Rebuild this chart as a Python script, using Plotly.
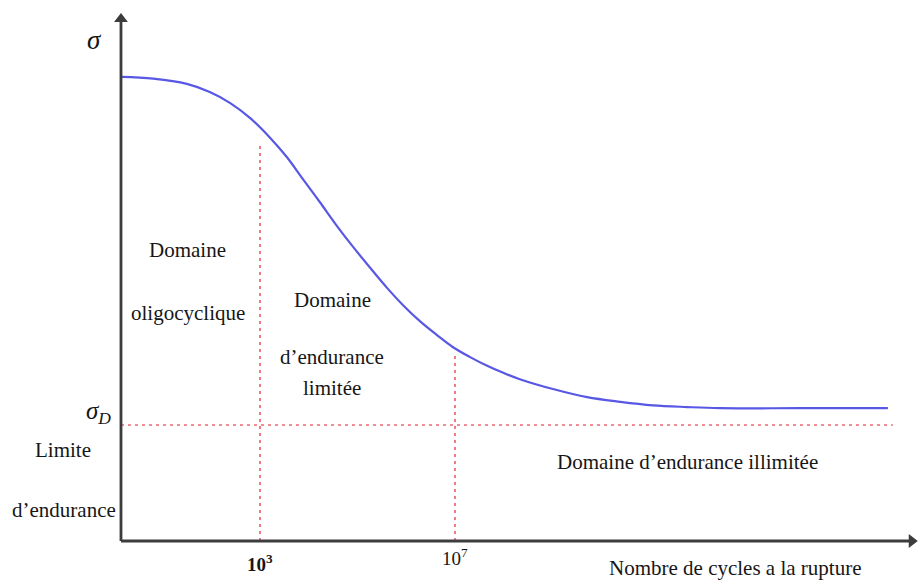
import plotly.graph_objects as go

# Wöhler (S-N) curve: stress amplitude versus log10 of cycles to failure
log_cycles = [0.15, 0.81, 1.50, 1.97, 2.39, 2.80, 3.21, 3.55, 3.88, 4.23,
              4.58, 4.91, 5.26, 5.61, 5.93, 6.28, 6.63, 6.96, 7.31, 7.66,
              7.99, 8.33, 9.01, 9.71, 10.39, 11.06, 11.76, 12.44, 14.08, 15.88]
stress = [800, 797, 788, 774, 755, 729, 695, 662, 624, 584,
          543, 507, 471, 436, 407, 379, 355, 334, 317, 302,
          290, 279, 262, 248, 240, 234, 231, 229, 229, 229]

sigma_d = 200                      # endurance limit
limit_end = 15.98                  # end of the endurance-limit line
domain_bounds = [3, 7]             # 10^3 and 10^7 cycles
bound_tops = [688, 324]            # dashed boundaries stop under the curve
tick_text = ["<b>10<sup>3</sup></b>", "10<sup>7</sup>"]

# axis frame (origin, arrow tips) and visible window
AXIS_X0, AXIS_X1 = 0.1487, 16.37
AXIS_Y0, AXIS_Y1 = 0, 900
X_RANGE = [-2.333, 16.518]
Y_RANGE = [-67.2, 932.7]

TXT = "#161616"
AXIS_C = "#3c3c3c"
SERIF = "Liberation Serif, Times New Roman, serif"
RED = "rgba(236,85,95,0.9)"

fig = go.Figure()

# dashed domain boundaries
for xb, top in zip(domain_bounds, bound_tops):
    fig.add_trace(go.Scatter(x=[xb, xb], y=[AXIS_Y0, top], mode="lines",
                             line=dict(color=RED, width=1.7, dash="3px,4px"),
                             hoverinfo="skip", showlegend=False))
fig.add_trace(go.Scatter(x=[AXIS_X0, limit_end], y=[sigma_d, sigma_d], mode="lines",
                         line=dict(color=RED, width=1.7, dash="3px,4px"),
                         hoverinfo="skip", showlegend=False))

# the curve
fig.add_trace(go.Scatter(x=log_cycles, y=stress, mode="lines",
                         line=dict(color="rgb(88,88,228)", width=2.2, shape="spline",
                                   smoothing=1.0),
                         hoverinfo="skip", showlegend=False))

# axes with arrow heads
fig.add_trace(go.Scatter(x=[AXIS_X0, AXIS_X0, None, AXIS_X0, AXIS_X1],
                         y=[AXIS_Y0, AXIS_Y1, None, AXIS_Y0, AXIS_Y0], mode="lines",
                         line=dict(color=AXIS_C, width=2.8),
                         hoverinfo="skip", showlegend=False))
fig.add_trace(go.Scatter(x=[AXIS_X0, AXIS_X1], y=[AXIS_Y1, AXIS_Y0], mode="markers",
                         marker=dict(symbol=["triangle-up", "triangle-right"], size=12,
                                     color=AXIS_C, line=dict(width=0)),
                         hoverinfo="skip", showlegend=False))

ann = []


def label(text, x, y, size=21, **kw):
    d = dict(text=text, x=x, y=y, xref="x", yref="y", showarrow=False,
             xanchor="center", yanchor="middle",
             font=dict(family=SERIF, size=size, color=TXT))
    d.update(kw)
    ann.append(d)


# tick labels at the domain boundaries
label(tick_text[0], domain_bounds[0], -38, size=19)
label(tick_text[1], domain_bounds[1], -28, size=19)

label("<i>σ</i>", -0.385, 864, size=27)
label("<i>σ<sub>D</sub></i>", -0.015, 221, size=25, xanchor="right")
label("Limite", -1.041, 157)
label("d’endurance", -1.021, 53)
label("Nombre de cycles a la rupture", 12.744, -47)

label("Domaine", 1.52, 502)
label("oligocyclique", 1.52, 393)
label("Domaine", 4.48, 415)
label("d’endurance", 4.48, 317)
label("limitée", 4.48, 264)
label("Domaine d’endurance illimitée", 11.76, 136)

fig.update_layout(
    width=919, height=580,
    margin=dict(l=0, r=0, t=0, b=0),
    paper_bgcolor="white", plot_bgcolor="white",
    xaxis=dict(range=X_RANGE, visible=False, fixedrange=True),
    yaxis=dict(range=Y_RANGE, visible=False, fixedrange=True),
    annotations=ann,
)

fig.write_html("out.html")
